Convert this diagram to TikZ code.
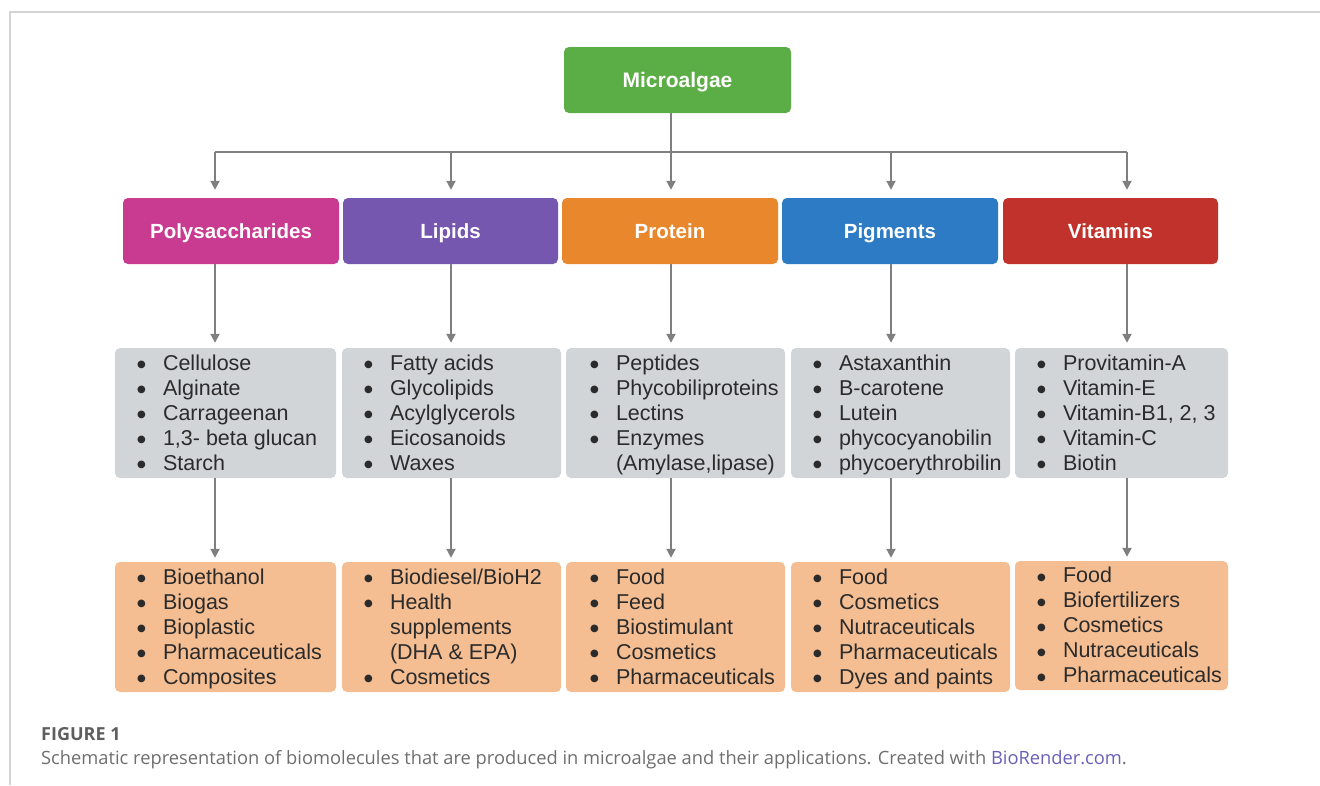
\documentclass[tikz,border=0pt]{standalone}
\usepackage{fontspec}
\setmainfont{Liberation Sans}
\newfontfamily\capfont{Open Sans}
\newfontfamily\symfont{DejaVu Sans}
\usetikzlibrary{arrows.meta}
\definecolor{cgreen}{HTML}{5BAD45}
\definecolor{cmag}{HTML}{C93A91}
\definecolor{cpur}{HTML}{7657B0}
\definecolor{cora}{HTML}{E8872B}
\definecolor{cblu}{HTML}{2C7BC4}
\definecolor{cred}{HTML}{C0322B}
\definecolor{cgraybox}{HTML}{D1D5D8}
\definecolor{corabox}{HTML}{F4BD92}
\definecolor{carrow}{HTML}{7F7F7F}
\definecolor{ctext}{HTML}{2B2B2B}
\definecolor{cframe}{HTML}{D4D4D4}
\definecolor{ccap}{HTML}{6E6E6E}
\definecolor{cfig}{HTML}{5E5E5E}
\definecolor{clink}{HTML}{6A5FB8}
\newcommand{\bul}{\raisebox{2.2pt}{\symfont\fontsize{10}{10}\selectfont ●}}
\newcommand{\itm}[1]{\strut\makebox[26pt][l]{\bul}#1}
\newcommand{\cont}[1]{\strut\hspace*{26pt}#1}
\tikzset{
  hdr/.style={rectangle, rounded corners=5pt, inner sep=0pt, minimum height=66pt,
    text height=16pt, text depth=1.3pt,
    text=white, font=\fontsize{20.5}{24}\selectfont\bfseries},
  graybox/.style={rectangle, rounded corners=5pt, fill=cgraybox, inner sep=0pt, minimum height=130pt},
  orabox/.style={rectangle, rounded corners=5pt, fill=corabox, inner sep=0pt, minimum height=130pt},
  listtext/.style={anchor=west, align=left, inner sep=0pt, text=ctext, yshift=-2pt,
    font=\fontsize{21.5}{25}\selectfont},
  conn/.style={draw=carrow, line width=2pt, -{Triangle[width=9pt,length=9pt]}},
  plain/.style={draw=carrow, line width=2pt},
}
\begin{document}
\begin{tikzpicture}[x=1pt,y=-1pt]
\useasboundingbox (0,0) rectangle (1320,785);
% page frame
\draw[cframe, line width=1.5pt] (1320,12) -- (10,12) -- (10,785);

% top node
\node[hdr, fill=cgreen, minimum width=227pt, font=\fontsize{21}{24}\selectfont\bfseries] (m) at (677.5,80) {Microalgae};

% category row
\node[hdr, fill=cmag, minimum width=216pt] (poly) at (231,231) {Polysaccharides};
\node[hdr, fill=cpur, minimum width=215pt] (lip) at (450.5,231) {Lipids};
\node[hdr, fill=cora, minimum width=216pt] (pro) at (670,231) {Protein};
\node[hdr, fill=cblu, minimum width=216pt] (pig) at (890,231) {Pigments};
\node[hdr, fill=cred, minimum width=215pt] (vit) at (1110.5,231) {Vitamins};

% gray boxes
\node[graybox, minimum width=221pt] (g1) at (225.5,413) {};
\node[graybox, minimum width=219pt] (g2) at (451.5,413) {};
\node[graybox, minimum width=219pt] (g3) at (675.5,413) {};
\node[graybox, minimum width=219pt] (g4) at (900.5,413) {};
\node[graybox, minimum width=213pt] (g5) at (1121.5,413) {};

% orange boxes
\node[orabox, minimum width=221pt] (o1) at (225.5,627) {};
\node[orabox, minimum width=219pt] (o2) at (451.5,627) {};
\node[orabox, minimum width=219pt] (o3) at (675.5,627) {};
\node[orabox, minimum width=219pt] (o4) at (900.5,627) {};
\node[orabox, minimum width=213pt, minimum height=129pt] (o5) at (1121.5,625.5) {};

% list texts
\node[listtext] (tg1) at ([xshift=22pt]g1.west) {\itm{Cellulose}\\\itm{Alginate}\\\itm{Carrageenan}\\\itm{1,3- beta glucan}\\\itm{Starch}};
\node[listtext] (tg2) at ([xshift=22pt]g2.west) {\itm{Fatty acids}\\\itm{Glycolipids}\\\itm{Acylglycerols}\\\itm{Eicosanoids}\\\itm{Waxes}};
\node[listtext] (tg3) at ([xshift=24pt]g3.west) {\itm{Peptides}\\\itm{Phycobiliproteins}\\\itm{Lectins}\\\itm{Enzymes}\\\cont{(Amylase,lipase)}};
\node[listtext] (tg4) at ([xshift=22pt]g4.west) {\itm{Astaxanthin}\\\itm{B-carotene}\\\itm{Lutein}\\\itm{phycocyanobilin}\\\itm{phycoerythrobilin}};
\node[listtext] (tg5) at ([xshift=22pt]g5.west) {\itm{Provitamin-A}\\\itm{Vitamin-E}\\\itm{Vitamin-B1, 2, 3}\\\itm{Vitamin-C}\\\itm{Biotin}};

\node[listtext] (to1) at ([xshift=22pt]o1.west) {\itm{Bioethanol}\\\itm{Biogas}\\\itm{Bioplastic}\\\itm{Pharmaceuticals}\\\itm{Composites}};
\node[listtext] (to2) at ([xshift=22pt]o2.west) {\itm{Biodiesel/BioH2}\\\itm{Health}\\\cont{supplements}\\\cont{(DHA \& EPA)}\\\itm{Cosmetics}};
\node[listtext] (to3) at ([xshift=24pt]o3.west) {\itm{Food}\\\itm{Feed}\\\itm{Biostimulant}\\\itm{Cosmetics}\\\itm{Pharmaceuticals}};
\node[listtext] (to4) at ([xshift=22pt]o4.west) {\itm{Food}\\\itm{Cosmetics}\\\itm{Nutraceuticals}\\\itm{Pharmaceuticals}\\\itm{Dyes and paints}};
\node[listtext] (to5) at ([xshift=22pt]o5.west) {\itm{Food}\\\itm{Biofertilizers}\\\itm{Cosmetics}\\\itm{Nutraceuticals}\\\itm{Pharmaceuticals}};

% arrow x positions
\coordinate (a1) at (215,152);
\coordinate (a2) at (451,152);
\coordinate (a3) at (671,152);
\coordinate (a4) at (891,152);
\coordinate (a5) at (1127,152);

% connectors: top
\draw[plain] (a1) -- (a5);
\draw[conn, shorten >=8pt] (m.south -| a3) -- (pro.north -| a3);
\draw[conn, shorten >=8pt] (a1) -- (poly.north -| a1);
\draw[conn, shorten >=8pt] (a2) -- (lip.north -| a2);
\draw[conn, shorten >=8pt] (a4) -- (pig.north -| a4);
\draw[conn, shorten >=8pt] (a5) -- (vit.north -| a5);

% category -> gray
\draw[conn, shorten >=5pt] (poly.south -| a1) -- (g1.north -| a1);
\draw[conn, shorten >=5pt] (lip.south -| a2) -- (g2.north -| a2);
\draw[conn, shorten >=5pt] (pro.south -| a3) -- (g3.north -| a3);
\draw[conn, shorten >=5pt] (pig.south -| a4) -- (g4.north -| a4);
\draw[conn, shorten >=5pt] (vit.south -| a5) -- (g5.north -| a5);

% gray -> orange
\draw[conn, shorten >=4pt] (g1.south -| a1) -- (o1.north -| a1);
\draw[conn, shorten >=4pt] (g2.south -| a2) -- (o2.north -| a2);
\draw[conn, shorten >=4pt] (g3.south -| a3) -- (o3.north -| a3);
\draw[conn, shorten >=4pt] (g4.south -| a4) -- (o4.north -| a4);
\draw[conn, shorten >=4pt] (g5.south -| a5) -- (o5.north -| a5);

% caption
\node[anchor=base west, inner sep=0pt, text=cfig, font=\capfont\fontsize{18}{20}\selectfont\bfseries] (figlab) at (41,740) {FIGURE 1};
\node[anchor=base west, inner sep=0pt, text=ccap, font=\capfont\fontsize{18.3}{20}\selectfont] (cap) at (41,764) {Schematic representation of biomolecules that are produced in microalgae and their applications. Created with \textcolor{clink}{BioRender.com}.};
\end{tikzpicture}
\end{document}
